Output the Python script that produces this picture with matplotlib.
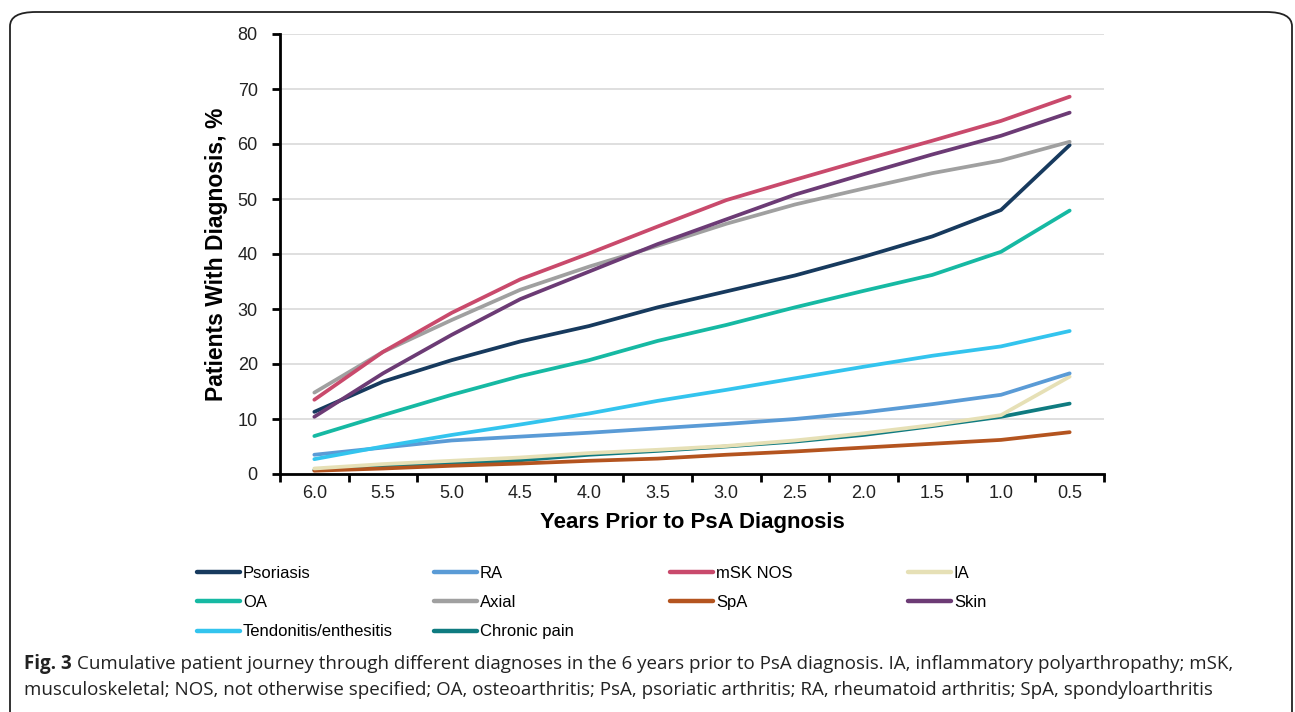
import matplotlib
matplotlib.use("Agg")
import matplotlib.pyplot as plt
from matplotlib.patches import FancyBboxPatch
from matplotlib.lines import Line2D

# x categories (years prior to PsA diagnosis)
years = ["6.0", "5.5", "5.0", "4.5", "4.0", "3.5", "3.0", "2.5", "2.0", "1.5", "1.0", "0.5"]

psoriasis = [11.3, 16.8, 20.7, 24.1, 26.9, 30.3, 33.2, 36.1, 39.5, 43.2, 48.0, 59.8]
ra = [3.5, 4.8, 6.1, 6.8, 7.5, 8.3, 9.1, 10.0, 11.2, 12.7, 14.4, 18.3]
msk_nos = [13.5, 22.2, 29.3, 35.4, 40.1, 45.0, 49.8, 53.5, 57.1, 60.6, 64.2, 68.6]
ia = [1.0, 1.8, 2.4, 3.0, 3.8, 4.4, 5.1, 6.1, 7.4, 8.9, 10.7, 17.7]
oa = [6.9, 10.7, 14.4, 17.8, 20.7, 24.2, 27.1, 30.3, 33.3, 36.2, 40.4, 47.9]
axial = [14.8, 22.2, 28.0, 33.5, 37.7, 41.5, 45.5, 49.0, 51.9, 54.7, 57.0, 60.4]
spa = [0.6, 1.0, 1.5, 1.9, 2.4, 2.8, 3.5, 4.1, 4.8, 5.5, 6.2, 7.6]
skin = [10.4, 18.3, 25.3, 31.8, 36.8, 41.8, 46.3, 50.8, 54.5, 58.1, 61.5, 65.7]
tendonitis = [2.7, 5.0, 7.1, 9.0, 11.0, 13.3, 15.3, 17.4, 19.5, 21.5, 23.2, 26.0]
chronic_pain = [0.7, 1.3, 1.9, 2.5, 3.5, 4.2, 5.0, 5.9, 7.1, 8.7, 10.4, 12.8]

# drawing order (back to front), label, values, colour
series = [
    ("Chronic pain", chronic_pain, "#0f7b80"),
    ("SpA", spa, "#b4541f"),
    ("IA", ia, "#e6e0b6"),
    ("RA", ra, "#5a9bd6"),
    ("Tendonitis/enthesitis", tendonitis, "#33c4ee"),
    ("OA", oa, "#16b9a3"),
    ("Psoriasis", psoriasis, "#173a5e"),
    ("Axial", axial, "#a0a0a0"),
    ("Skin", skin, "#6c3b75"),
    ("mSK NOS", msk_nos, "#c94a6c"),
]

plt.rcParams['font.family'] = ['Liberation Sans', 'DejaVu Sans']

fig = plt.figure(figsize=(12.95, 7.12), dpi=100)
ax = fig.add_axes([280 / 1295, 1 - 474 / 712, 824 / 1295, 440 / 712])

x = list(range(len(years)))
lines = {}
for name, vals, col in series:
    ln, = ax.plot(x, vals, color=col, lw=2.7, solid_capstyle='round', label=name)
    lines[name] = ln

ax.set_xlim(-0.5, len(years) - 0.5)
ax.set_ylim(0, 80)
ax.set_yticks(range(0, 81, 10))
ax.set_xticks(x)
ax.set_xticklabels(years)
ax.set_xticks([i - 0.5 for i in range(len(years) + 1)], minor=True)
ax.tick_params(axis='x', which='major', length=0, pad=8, labelsize=13)
ax.tick_params(axis='x', which='minor', length=6, width=2, direction='out', color='black')
ax.tick_params(axis='y', length=6, width=2, direction='out', pad=10, labelsize=13)
ax.tick_params(axis='both', labelcolor='#222222', color='black')

ax.grid(axis='y', color='#d9d9d9', lw=1.2)
ax.set_axisbelow(True)
for s in ['top', 'right']:
    ax.spines[s].set_visible(False)
for s in ['left', 'bottom']:
    ax.spines[s].set_linewidth(2)

ax.set_ylabel("Patients With Diagnosis, %", fontsize=16.5, fontweight='bold', labelpad=7)
ax.set_xlabel("Years Prior to PsA Diagnosis", fontsize=16, fontweight='bold', labelpad=7)

# legend: four columns laid out like the original
columns = [
    ["Psoriasis", "OA", "Tendonitis/enthesitis"],
    ["RA", "Axial", "Chronic pain"],
    ["mSK NOS", "SpA"],
    ["IA", "Skin"],
]
col_x = [197, 434, 670, 908]
for cx, names in zip(col_x, columns):
    handles = [Line2D([], [], color=lines[n].get_color(), lw=3.2, solid_capstyle='round') for n in names]
    fig.legend(handles, names, loc='upper left', bbox_to_anchor=(cx / 1295, 1 - 566 / 712),
               frameon=False, fontsize=12, handlelength=2.6, handletextpad=0.15,
               labelspacing=0.85, borderaxespad=0, borderpad=0)

# rounded outer frame
frame = FancyBboxPatch((10 / 1295, -20 / 712), 1282 / 1295, 720 / 712,
                       boxstyle="round,pad=0,rounding_size=0.02", transform=fig.transFigure,
                       fill=False, edgecolor='#222222', lw=1.3, clip_on=False)
fig.add_artist(frame)

cap_font = ['Open Sans', 'DejaVu Sans']
fig.text(24 / 1295, 1 - 664 / 712, "Fig. 3", fontsize=13.5, fontweight='bold', family=cap_font,
         color='#222222', va='center', ha='left')
fig.text(77 / 1295, 1 - 664 / 712,
         "Cumulative patient journey through different diagnoses in the 6 years prior to PsA diagnosis. "
         "IA, inflammatory polyarthropathy; mSK,",
         fontsize=13.5, family=cap_font, color='#222222', va='center', ha='left')
fig.text(24 / 1295, 1 - 690 / 712,
         "musculoskeletal; NOS, not otherwise specified; OA, osteoarthritis; PsA, psoriatic arthritis; "
         "RA, rheumatoid arthritis; SpA, spondyloarthritis",
         fontsize=13.5, family=cap_font, color='#222222', va='center', ha='left')

fig.savefig("out.png", dpi=100)
